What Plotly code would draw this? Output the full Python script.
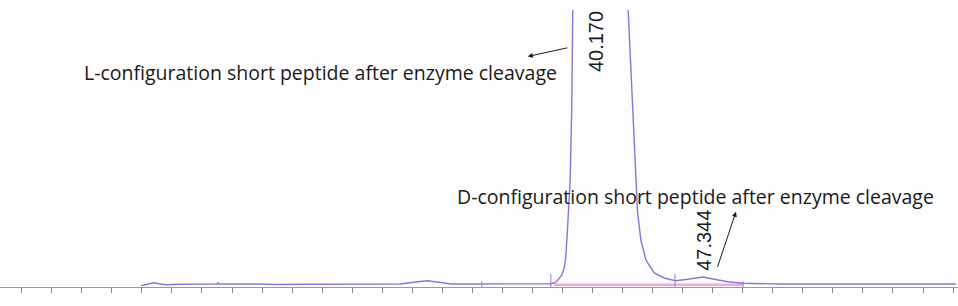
import plotly.graph_objects as go

# Chromatogram trace (time in min, signal in arbitrary units)
time_min = [9.95, 10.35, 10.79, 11.22, 11.66, 12.5, 15.0, 15.05, 15.1, 17.5, 19.0, 21.0, 23.0, 24.0,
            27.2, 28.09, 29.0, 29.9, 30.55, 32.0, 34.0, 36.0, 37.22,
            37.44, 37.6, 37.75, 37.95, 38.11, 38.22, 38.33, 38.44, 38.51, 38.62, 38.73, 38.85,
            39.3, 40.17, 41.2, 42.0, 42.37, 42.63, 42.89, 43.0, 43.22, 43.55, 44.11, 44.77,
            45.44, 45.55, 46.33, 47.344, 48.11, 49.0, 50.0, 51.89, 52.55, 55.0, 58.0, 61.0, 64.2]
signal = [-1.7, 0.0, 1.3, 0.0, -0.7, -0.3, 0.0, 1.0, 0.0, 0.0, -0.5, -0.3, 0.0, -0.5,
          0.0, 1.7, 3.2, 1.5, 0.0, 0.0, 0.0, 0.0, 0.3,
          1.0, 2.5, 5.0, 9.0, 16.0, 27.0, 54.0, 87.0, 104.0, 180.0, 274.0, 400.0,
          1200.0, 2500.0, 1200.0, 500.0, 274.0, 190.0, 104.0, 71.0, 44.0, 24.0, 11.0, 6.0,
          3.5, 3.3, 4.7, 7.0, 4.7, 2.3, 0.7, 0.0, 0.0, 0.0, 0.0, 0.0, 0.0]

# Integration baseline under the main peak
baseline_t = [37.44, 50.02]
baseline_v = [-0.7, -0.7]

# Integration event markers
event_t = [32.62, 37.22, 45.49, 50.02]
event_v = [0.0, 3.0, 3.0, -0.7]
event_size = [4, 10, 10, 5]

# Peak labels
peak_times = [40.170, 47.344]
peak_labels = ["40.170", "47.344"]
peak_label_v = [242, 44]

x_ticks = list(range(2, 65, 2))

PURPLE = "#8878d4"
PINK = "#f5a6da"
INK = "#1a1a1a"

fig = go.Figure()
fig.add_trace(go.Scatter(x=baseline_t, y=baseline_v, mode="lines",
                         line=dict(color=PINK, width=2.5), hoverinfo="skip"))
fig.add_trace(go.Scatter(x=time_min, y=signal, mode="lines",
                         line=dict(color=PURPLE, width=1.4), hoverinfo="skip"))
fig.add_trace(go.Scatter(x=event_t, y=event_v, mode="markers",
                         marker=dict(symbol="line-ns", size=event_size,
                                     line=dict(color=PURPLE, width=1.3)),
                         hoverinfo="skip"))

for t, lab, v in zip(peak_times, peak_labels, peak_label_v):
    fig.add_annotation(x=t, y=v, xref="x", yref="y", text=lab, showarrow=False,
                       textangle=-90, xshift=1,
                       font=dict(family="Liberation Sans, Arial", size=20, color=INK))

fig.add_annotation(x=6.02, y=212, xref="x", yref="y", xanchor="left", yanchor="middle",
                   text="L-configuration short peptide after enzyme cleavage", showarrow=False,
                   font=dict(family="Open Sans", size=19.5, color=INK))
fig.add_annotation(x=30.86, y=88, xref="x", yref="y", xanchor="left", yanchor="middle",
                   text="D-configuration short peptide after enzyme cleavage", showarrow=False,
                   font=dict(family="Open Sans", size=19.5, color=INK))

# Arrows
fig.add_annotation(x=35.69, y=227.5, ax=38.42, ay=236.5, xref="x", yref="y",
                   axref="x", ayref="y", text="", showarrow=True,
                   arrowhead=2, arrowsize=1, arrowwidth=1, arrowcolor=INK)
fig.add_annotation(x=49.55, y=72.3, ax=48.29, ay=15.7, xref="x", yref="y",
                   axref="x", ayref="y", text="", showarrow=True,
                   arrowhead=2, arrowsize=1, arrowwidth=1, arrowcolor=INK)

fig.update_layout(
    width=958, height=306,
    margin=dict(l=0, r=0, t=10, b=19),
    paper_bgcolor="#fdfdfd", plot_bgcolor="#fdfdfd",
    showlegend=False,
    xaxis=dict(range=[0.553, 64.33], tickvals=x_ticks, showticklabels=False,
               ticks="outside", ticklen=5, tickcolor="#8a8a8a", tickwidth=1,
               showline=True, linecolor="#9a9a9a", linewidth=1,
               showgrid=False, zeroline=False, fixedrange=True),
    yaxis=dict(range=[-3, 274], visible=False, showgrid=False, zeroline=False, fixedrange=True),
)

fig.write_html("out.html", config={"displayModeBar": False})
